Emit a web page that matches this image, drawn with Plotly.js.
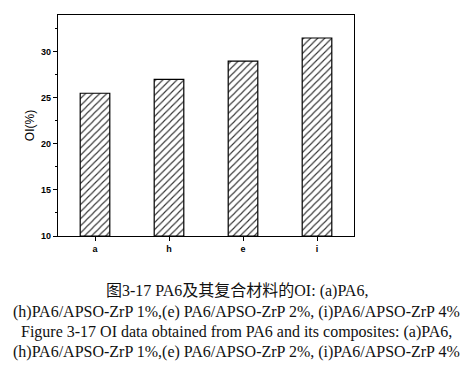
<!DOCTYPE html>
<html><head><meta charset="utf-8">
<script src="https://cdn.plot.ly/plotly-3.0.1.min.js"></script>
<style>html,body{margin:0;padding:0;background:#fff}#c{width:472px;height:371px}</style>
</head><body><div id="c"></div>
<script>
const categories = ['a', 'h', 'e', 'i'];
const oiValues = [25.5, 27.0, 29.0, 31.5];
const yTickVals = [10, 15, 20, 25, 30];
const captionLines = [
  '图3-17 PA6及其复合材料的OI: (a)PA6,',
  '(h)PA6/APSO-ZrP 1%,(e) PA6/APSO-ZrP 2%, (i)PA6/APSO-ZrP 4%',
  'Figure 3-17 OI data obtained from PA6 and its composites: (a)PA6,',
  '(h)PA6/APSO-ZrP 1%,(e) PA6/APSO-ZrP 2%, (i)PA6/APSO-ZrP 4%'
];
const captionY = [291, 312, 332, 352];

const trace = {
  type: 'bar', x: categories, y: oiValues.map(v => v - 10), base: 10, width: 0.4,
  marker: {color: '#fff', line: {color: '#000', width: 1.2},
    pattern: {shape: '/', fgcolor: '#333', bgcolor: '#fff', size: 5, solidity: 0.22}},
  hoverinfo: 'none'
};

const annotations = captionLines.map((t, i) => ({
  text: t, xref: 'paper', yref: 'paper', x: (236.5 - 58) / 296, xanchor: 'center',
  y: 1 - (captionY[i] - 15) / 221, yanchor: 'middle', showarrow: false,
  font: {family: 'Liberation Serif, Noto Sans CJK SC, serif', size: 16, color: '#111'}
}));

const layout = {
  width: 472, height: 371,
  margin: {l: 58, r: 118, t: 15, b: 135},
  paper_bgcolor: '#fff', plot_bgcolor: '#fff',
  showlegend: false,
  xaxis: {
    type: 'category', range: [-0.5, 3.5], showgrid: false, zeroline: false,
    showline: true, linecolor: '#000', linewidth: 1.2, mirror: true,
    ticks: 'outside', ticklen: 4, tickcolor: '#000',
    minor: {ticks: 'outside', ticklen: 2, tickcolor: '#000', dtick: 1, tick0: 0.5},
    tickfont: {family: 'Liberation Sans, Arial, sans-serif', size: 9, color: '#000', weight: 'bold'}
  },
  yaxis: {
    range: [10, 34], showgrid: false, zeroline: false,
    showline: true, linecolor: '#000', linewidth: 1.2, mirror: true,
    tickmode: 'array', tickvals: yTickVals, ticks: 'outside', ticklen: 4, tickcolor: '#000',
    minor: {ticks: 'outside', ticklen: 2, tickcolor: '#000', dtick: 2.5},
    tickfont: {family: 'Liberation Sans, Arial, sans-serif', size: 9, color: '#000', weight: 'bold'},
    title: {text: 'OI(%)', standoff: 3, font: {family: 'Liberation Sans, Arial, sans-serif', size: 12, color: '#000'}}
  },
  annotations: annotations
};
Plotly.newPlot('c', [trace], layout, {staticPlot: true, displayModeBar: false});
</script></body></html>
